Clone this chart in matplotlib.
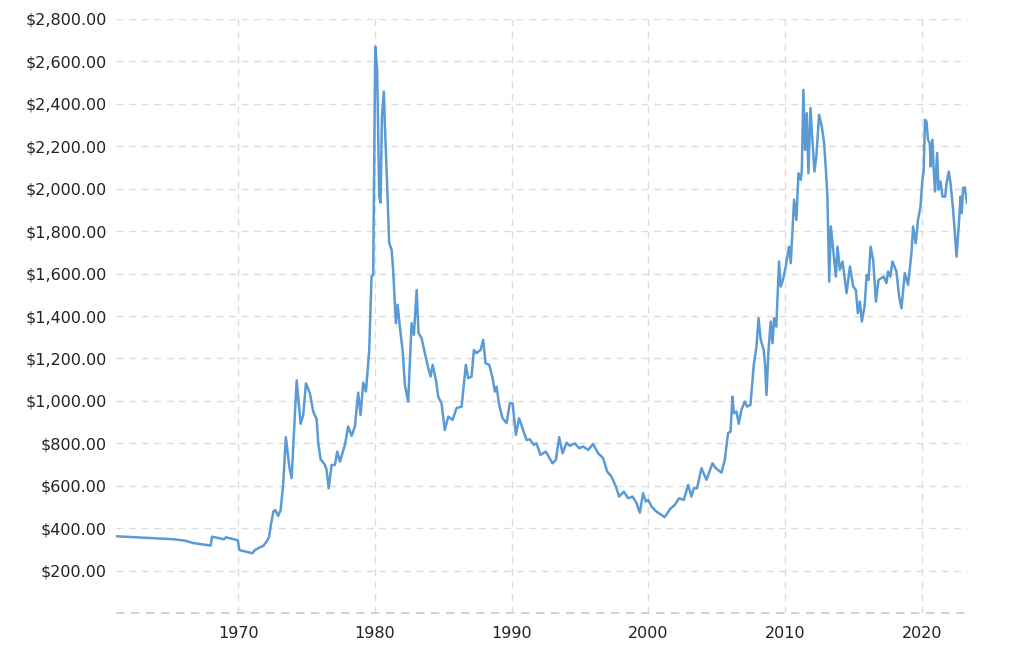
"""Inflation-adjusted gold price, 1961 onwards (line chart with dashed grid)."""

import matplotlib

matplotlib.use("Agg")  # headless: save to file
import matplotlib.pyplot as plt
from matplotlib.ticker import FuncFormatter

# --- data -------------------------------------------------------------------
years = [
    1961.04, 1965.23, 1966.09, 1966.69, 1967.97, 1968.06, 1968.94, 1969.09, 1969.96, 1970.06,
    1971.01, 1971.21, 1971.57, 1971.81, 1972.06, 1972.25, 1972.35, 1972.55, 1972.69, 1972.91,
    1973.09, 1973.28, 1973.47, 1973.72, 1973.89, 1974.26, 1974.55, 1974.74, 1974.94, 1975.23,
    1975.47, 1975.72, 1975.84, 1976.01, 1976.33, 1976.45, 1976.60, 1976.82, 1977.06, 1977.23,
    1977.43, 1977.79, 1978.03, 1978.28, 1978.52, 1978.76, 1978.94, 1979.13, 1979.33, 1979.57,
    1979.74, 1979.86, 1980.01, 1980.15, 1980.30, 1980.40, 1980.50, 1980.64, 1980.72, 1980.84,
    1981.03, 1981.21, 1981.32, 1981.52, 1981.65, 1981.81, 1982.01, 1982.18, 1982.42, 1982.67,
    1982.84, 1983.04, 1983.18, 1983.40, 1983.64, 1983.89, 1984.06, 1984.21, 1984.45, 1984.62,
    1984.86, 1985.10, 1985.35, 1985.67, 1985.96, 1986.33, 1986.64, 1986.81, 1987.06, 1987.23,
    1987.42, 1987.72, 1987.91, 1988.08, 1988.35, 1988.60, 1988.76, 1988.89, 1989.08, 1989.33,
    1989.62, 1989.86, 1990.06, 1990.30, 1990.54, 1990.83, 1991.08, 1991.32, 1991.62, 1991.81,
    1992.10, 1992.49, 1992.98, 1993.23, 1993.47, 1993.72, 1994.01, 1994.25, 1994.62, 1994.93,
    1995.22, 1995.59, 1995.95, 1996.32, 1996.69, 1996.98, 1997.30, 1997.62, 1997.86, 1998.20,
    1998.52, 1998.84, 1999.13, 1999.37, 1999.61, 1999.81, 1999.98, 2000.23, 2000.59, 2000.96,
    2001.20, 2001.57, 2001.93, 2002.25, 2002.59, 2002.91, 2003.15, 2003.32, 2003.56, 2003.88,
    2004.25, 2004.69, 2004.93, 2005.35, 2005.59, 2005.83, 2006.01, 2006.15, 2006.25, 2006.45,
    2006.61, 2006.81, 2007.05, 2007.22, 2007.47, 2007.71, 2007.91, 2008.06, 2008.22, 2008.44,
    2008.54, 2008.64, 2008.79, 2008.95, 2009.08, 2009.20, 2009.36, 2009.56, 2009.68, 2009.85,
    2010.05, 2010.29, 2010.42, 2010.66, 2010.83, 2010.98, 2011.15, 2011.23, 2011.34, 2011.47,
    2011.59, 2011.71, 2011.86, 2012.00, 2012.15, 2012.29, 2012.49, 2012.69, 2012.86, 2012.98,
    2013.10, 2013.23, 2013.35, 2013.52, 2013.72, 2013.84, 2014.01, 2014.21, 2014.50, 2014.75,
    2014.99, 2015.18, 2015.33, 2015.48, 2015.62, 2015.82, 2015.97, 2016.11, 2016.26, 2016.45,
    2016.65, 2016.84, 2017.22, 2017.42, 2017.54, 2017.71, 2017.86, 2018.15, 2018.35, 2018.52,
    2018.76, 2019.00, 2019.25, 2019.37, 2019.56, 2019.73, 2019.91, 2020.05, 2020.15, 2020.24,
    2020.35, 2020.46, 2020.59, 2020.66, 2020.78, 2020.88, 2020.98, 2021.13, 2021.23, 2021.38,
    2021.52, 2021.72, 2021.82, 2021.98, 2022.11, 2022.30, 2022.55, 2022.74, 2022.84, 2022.93,
    2023.03, 2023.15, 2023.23, 2023.32,
]
prices = [
    362, 348, 341, 330, 318, 360, 348, 357, 343, 297,
    282, 297, 310, 316, 337, 360, 407, 478, 486, 458,
    486, 612, 829, 690, 636, 1096, 892, 934, 1083, 1036,
    950, 914, 800, 725, 698, 675, 588, 698, 698, 761,
    714, 793, 879, 835, 879, 1039, 934, 1086, 1044, 1240,
    1586, 1594, 2670, 2561, 1963, 1935, 2340, 2458, 2293, 2089,
    1744, 1712, 1618, 1366, 1453, 1350, 1240, 1075, 997, 1366,
    1311, 1523, 1319, 1296, 1225, 1154, 1115, 1170, 1099, 1020,
    989, 863, 926, 910, 966, 973, 1170, 1107, 1115, 1240,
    1225, 1240, 1288, 1178, 1170, 1107, 1044, 1067, 981, 918,
    895, 989, 989, 840, 918, 863, 816, 819, 793, 800,
    745, 761, 706, 722, 829, 753, 803, 788, 800, 777,
    785, 769, 797, 753, 730, 667, 643, 596, 549, 572,
    541, 549, 518, 473, 565, 525, 533, 502, 478, 462,
    452, 489, 510, 541, 533, 604, 549, 588, 588, 683,
    628, 706, 683, 662, 722, 848, 855, 1020, 942, 950,
    892, 958, 997, 973, 981, 1170, 1256, 1390, 1288, 1240,
    1170, 1028, 1240, 1374, 1272, 1390, 1350, 1657, 1539, 1570,
    1633, 1727, 1649, 1948, 1853, 2073, 2042, 2089, 2466, 2183,
    2356, 2073, 2380, 2231, 2081, 2152, 2348, 2293, 2215, 2097,
    1963, 1562, 1822, 1712, 1586, 1727, 1618, 1657, 1508, 1633,
    1539, 1523, 1413, 1468, 1374, 1445, 1594, 1570, 1727, 1665,
    1468, 1570, 1586, 1555, 1610, 1586, 1657, 1610, 1492, 1437,
    1602, 1547, 1696, 1822, 1743, 1853, 1916, 2042, 2089, 2325,
    2317, 2231, 2215, 2105, 2231, 2089, 1987, 2168, 1995, 2034,
    1963, 1963, 2026, 2081, 2026, 1901, 1680, 1853, 1963, 1885,
    2003, 2007, 1971, 1932,
]

x_ticks = [1970, 1980, 1990, 2000, 2010, 2020]
y_ticks = [200, 400, 600, 800, 1000, 1200, 1400, 1600, 1800, 2000, 2200, 2400, 2600, 2800]

LINE_COLOR = "#5b9bd5"
GRID_COLOR = "#dcdcdc"

fig = plt.figure(figsize=(10.24, 6.46), dpi=100)
ax = fig.add_axes([0.1133, 0.051, 0.8315, 0.9196])

ax.plot(years, prices, color=LINE_COLOR, lw=1.8, solid_joinstyle="round", zorder=3)

ax.set_xlim(1961.04, 2023.35)
ax.set_ylim(0, 2800)
ax.set_xticks(x_ticks)
ax.set_yticks(y_ticks)
ax.yaxis.set_major_formatter(FuncFormatter(lambda v, _: f"${v:,.2f}"))

# --- dashed grid, no frame ----------------------------------------------------
ax.grid(True, color=GRID_COLOR, ls=(0, (5, 4)), lw=1.0)
ax.axhline(0, color="#c8c8c8", ls=(0, (5, 4)), lw=1.2, clip_on=False)
for side in ax.spines.values():
    side.set_visible(False)

ax.tick_params(length=0, labelsize=11.5, colors="#222222")
ax.tick_params(axis="y", pad=6.5)
ax.tick_params(axis="x", pad=9)

fig.savefig("out.png", dpi=100)
plt.close(fig)
